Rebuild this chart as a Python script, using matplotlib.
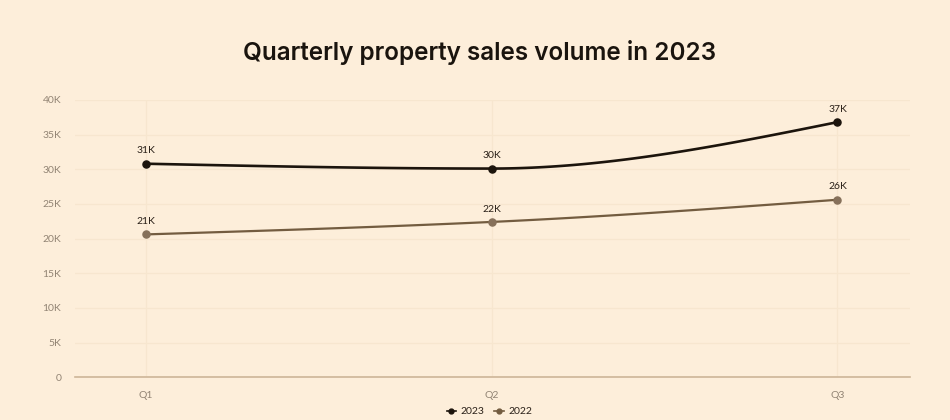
import numpy as np
import matplotlib
matplotlib.use("Agg")
import matplotlib.pyplot as plt
from matplotlib.lines import Line2D

quarters = ["Q1", "Q2", "Q3"]
sales_2023 = [30.8, 30.1, 36.8]   # thousands
sales_2022 = [20.6, 22.4, 25.6]
y_ticks = [0, 5, 10, 15, 20, 25, 30, 35, 40]
y_tick_labels = ["0", "5K", "10K", "15K", "20K", "25K", "30K", "35K", "40K"]

BG = "#fdeeda"
DARK = "#1c140c"
BROWN = "#735c40"


def monotone_curve(xs, ys, n=60):
    # monotone cubic (Fritsch-Carlson) for the smooth line rendering
    xs = np.asarray(xs, float)
    ys = np.asarray(ys, float)
    h = np.diff(xs)
    d = np.diff(ys) / h
    m = np.zeros_like(ys)
    for i in range(1, len(ys) - 1):
        if d[i - 1] * d[i] > 0:
            m[i] = (h[i - 1] + h[i]) / 2 / ((h[i] / 2) / d[i - 1] + (h[i - 1] / 2) / d[i])
    m[0] = (3 * d[0] - m[1]) / 2
    m[-1] = (3 * d[-1] - m[-2]) / 2
    px, py = [], []
    for i in range(len(xs) - 1):
        t = np.linspace(0, 1, n)
        h00 = 2 * t**3 - 3 * t**2 + 1
        h10 = t**3 - 2 * t**2 + t
        h01 = -2 * t**3 + 3 * t**2
        h11 = t**3 - t**2
        px.extend(xs[i] + t * h[i])
        py.extend(h00 * ys[i] + h10 * h[i] * m[i] + h01 * ys[i + 1] + h11 * h[i] * m[i + 1])
    return np.array(px), np.array(py)


plt.rcParams["font.family"] = ["Lato", "DejaVu Sans"]

fig = plt.figure(figsize=(9.5, 4.2), dpi=100, facecolor=BG)
ax = fig.add_axes([0.079, 0.102, 0.879, 0.66], facecolor=BG)

x = np.arange(len(quarters))
for vals, col, mcol, lw in [(sales_2022, BROWN, "#86705a", 1.6),
                            (sales_2023, DARK, DARK, 1.9)]:
    cx, cy = monotone_curve(x, vals)
    ax.plot(cx, cy, color=col, lw=lw, zorder=3)
    ax.scatter(x, vals, s=26, color=mcol, zorder=4)
    for xi, v in zip(x, vals):
        ax.annotate(f"{v:.0f}K", (xi, v), xytext=(0, 6), textcoords="offset points",
                    ha="center", va="bottom", fontsize=7.5, color="#2a2018")

ax.set_xlim(-0.205, 2.21)
ax.set_ylim(0, 40)
ax.set_xticks(x)
ax.set_xticklabels(quarters)
ax.set_yticks(y_ticks)
ax.set_yticklabels(y_tick_labels)
ax.tick_params(axis="both", length=0, labelsize=7.5, colors="#928474")
ax.tick_params(axis="x", pad=10)
ax.tick_params(axis="y", pad=10)
ax.grid(True, color="#f7e6cf", lw=0.9)
ax.set_axisbelow(True)
for s in ["top", "right", "left"]:
    ax.spines[s].set_visible(False)
ax.spines["bottom"].set_color("#cdb598")
ax.spines["bottom"].set_linewidth(1.2)

fig.text(0.505, 0.875, "Quarterly property sales volume in 2023", ha="center", va="center",
         fontsize=17.5, fontweight="semibold", color="#1a140e", family=["Inter", "DejaVu Sans"])

handles = [Line2D([0], [0], color=DARK, marker="o", markersize=3.5, lw=1.2),
           Line2D([0], [0], color=BROWN, marker="o", markersize=3.5, lw=1.2)]
fig.legend(handles, ["2023", "2022"], loc="center", bbox_to_anchor=(0.515, 0.02),
           ncol=2, frameon=False, fontsize=7.5, handlelength=0.9, handletextpad=0.4,
           columnspacing=1.0, labelcolor="#2a2018")

fig.savefig("out.png", dpi=100, facecolor=BG)
